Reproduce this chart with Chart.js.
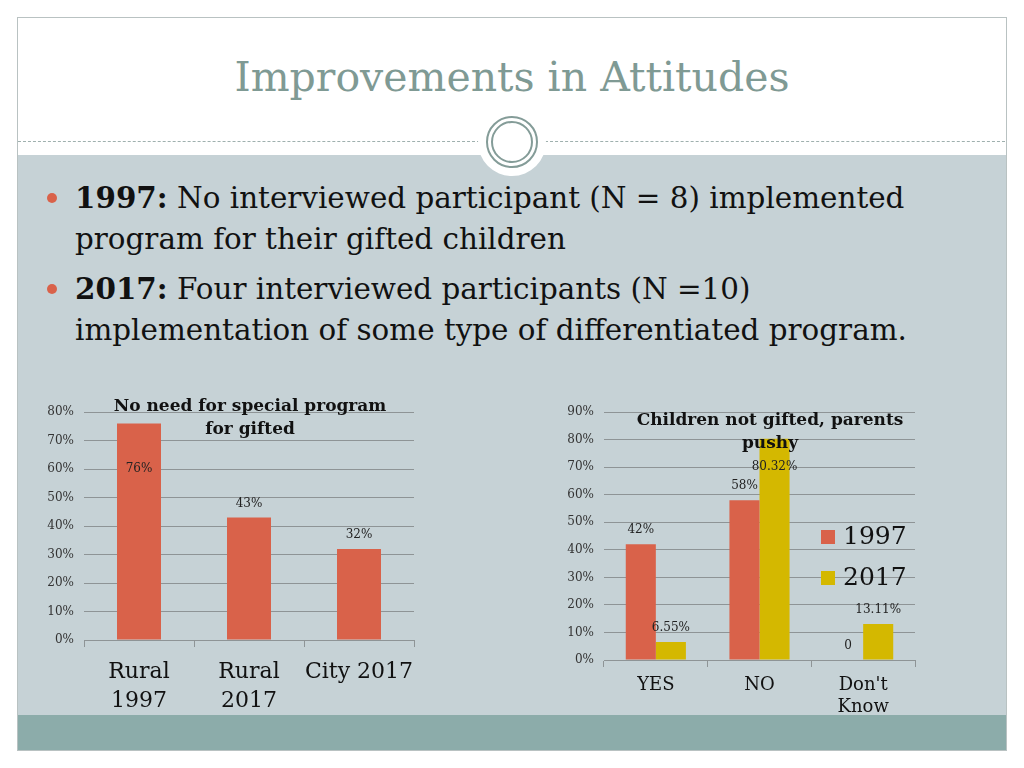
<!DOCTYPE html>
<html>
<head>
<meta charset="utf-8">
<script src="https://cdn.jsdelivr.net/npm/chart.js@4"></script>
<style>
  body { margin: 0; width: 1024px; height: 768px; background: #fff; position: relative; overflow: hidden; font-family: "DejaVu Serif", serif; }
  .frame { position: absolute; left: 17px; top: 17px; width: 988px; height: 732px; border: 1px solid #b9c2c2; background: #fff; }
  .body { position: absolute; left: 18px; top: 155px; width: 988px; height: 560px; background: #c6d2d6; }
  .band { position: absolute; left: 18px; top: 715px; width: 988px; height: 35px; background: #8cacaa; }
  .dots { position: absolute; top: 141px; height: 0; border-top: 1px dashed #9fb0ae; }
  .disk { position: absolute; left: 478px; top: 108px; width: 68px; height: 68px; border-radius: 50%; background: #fff; }
  .ring { position: absolute; left: 486px; top: 116px; width: 52px; height: 52px; border-radius: 50%; border: 2.5px solid #849c98; box-sizing: border-box; }
  .ring2 { position: absolute; left: 491px; top: 121px; width: 42px; height: 42px; border-radius: 50%; border: 2px solid #849c98; box-sizing: border-box; }
  h1 { position: absolute; left: 0; width: 1024px; top: 53px; margin: 0; text-align: center; font-weight: normal; font-size: 41px; color: #7f9a94; }
  .bullets { position: absolute; left: 75px; top: 177px; width: 940px; font-size: 29.4px; line-height: 41px; color: #111; }
  .bullets p { margin: 0 0 8px 0; position: relative; white-space: nowrap; }
  .bullets p::before { content: ""; position: absolute; left: -28px; top: 16px; width: 10px; height: 10px; border-radius: 50%; background: #d9624a; }
  canvas { position: absolute; }
  .ctitle { position: absolute; text-align: center; font-weight: bold; font-size: 17px; line-height: 23px; color: #111; }
  .legend { position: absolute; left: 821px; top: 515px; font-size: 25px; line-height: 41px; color: #111; }
  .legend span { display: inline-block; width: 14px; height: 14px; margin-right: 8px; }
</style>
</head>
<body>
<div class="frame"></div>
<div class="body"></div>
<div class="band"></div>
<div class="dots" style="left:18px;width:462px"></div>
<div class="dots" style="left:545px;width:460px"></div>
<div class="disk"></div>
<div class="ring"></div>
<div class="ring2"></div>
<h1>Improvements in Attitudes</h1>
<div class="bullets">
  <p><b>1997:</b> No interviewed participant (N = 8) implemented<br>program for their gifted children</p>
  <p><b>2017:</b> Four interviewed participants (N =10)<br>implementation of some type of differentiated program.</p>
</div>

<canvas id="chart1" width="390" height="330" style="left:40px;top:395px"></canvas>
<canvas id="chart2" width="370" height="330" style="left:560px;top:395px"></canvas>
<div class="ctitle" style="left:90px;width:320px;top:394px">No need for special program<br>for gifted</div>
<div class="ctitle" style="left:610px;width:320px;top:408px">Children not gifted, parents<br>pushy</div>
<div class="legend">
  <div><span style="background:#d9624a"></span>1997</div>
  <div><span style="background:#d4b800"></span>2017</div>
</div>

<script>
// chart 1 data
const areas = [['Rural', '1997'], ['Rural', '2017'], 'City 2017'];
const noNeed = [76, 43, 32];

// chart 2 data
const answers = ['YES', 'NO', ["Don't", 'Know']];
const years = ['1997', '2017'];
const pushy1997 = [42, 58, 0];
const pushy2017 = [6.55, 80.32, 13.11];

const red = '#d9624a';
const yellow = '#d4b800';
const gridColor = '#8e9496';
const serif = '"DejaVu Serif", serif';

// value labels on top of bars
const barLabels = {
    id: 'barLabels',
    afterDatasetsDraw(chart, args, opts) {
        const ctx = chart.ctx;
        ctx.save();
        ctx.font = '12px ' + serif;
        ctx.fillStyle = '#222';
        ctx.textAlign = 'center';
        ctx.textBaseline = 'middle';
        chart.data.datasets.forEach((ds, i) => {
            chart.getDatasetMeta(i).data.forEach((bar, j) => {
                const v = ds.data[j];
                const txt = v === 0 ? '0' : v + '%';
                const shift = (opts.shift || {})[i + '-' + j] || -14;
                ctx.fillText(txt, bar.x, bar.y + shift);
            });
        });
        ctx.restore();
    }
};

function yAxis(max) {
    return {
        min: 0, max: max,
        border: { display: false },
        grid: { color: gridColor, drawTicks: false },
        ticks: { stepSize: 10, padding: 10, color: '#333', font: { family: serif, size: 12 }, callback: v => v + '%' },
        afterFit: s => { s.width = 44; }
    };
}

function xAxis(size, height, pad, lh) {
    return {
        border: { color: gridColor },
        grid: { offset: true, drawOnChartArea: false, tickLength: 7, color: gridColor },
        ticks: { color: '#111', padding: pad, maxRotation: 0, minRotation: 0, autoSkip: false,
                 font: { family: serif, size: size, lineHeight: lh } },
        afterFit: s => { s.height = height; }
    };
}

new Chart(document.getElementById('chart1'), {
    type: 'bar',
    data: {
        labels: areas,
        datasets: [{ data: noNeed, backgroundColor: red, categoryPercentage: 0.4, barPercentage: 1 }]
    },
    options: {
        responsive: false,
        animation: false,
        layout: { padding: { top: 8, right: 16 } },
        plugins: { legend: { display: false }, tooltip: { enabled: false }, barLabels: { shift: { '0-0': 45 } } },
        scales: { x: xAxis(22, 85, 11, 1.32), y: yAxis(80) }
    },
    plugins: [barLabels]
});

new Chart(document.getElementById('chart2'), {
    type: 'bar',
    data: {
        labels: answers,
        datasets: [
            { label: years[0], data: pushy1997, backgroundColor: red, categoryPercentage: 0.58, barPercentage: 1 },
            { label: years[1], data: pushy2017, backgroundColor: yellow, categoryPercentage: 0.58, barPercentage: 1 }
        ]
    },
    options: {
        responsive: false,
        animation: false,
        layout: { padding: { top: 11, right: 15 } },
        plugins: { legend: { display: false }, tooltip: { enabled: false }, barLabels: { shift: { '1-1': 28 } } },
        scales: { x: xAxis(18, 65, 7, 1.25), y: yAxis(90) }
    },
    plugins: [barLabels]
});
</script>
</body>
</html>
